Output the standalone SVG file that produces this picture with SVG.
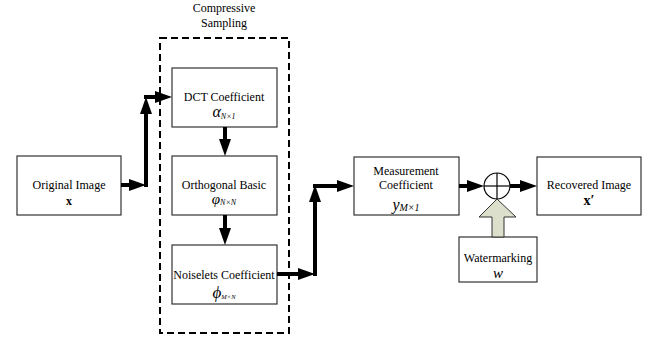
<svg xmlns="http://www.w3.org/2000/svg" width="653" height="341" viewBox="0 0 653 341" font-family="Liberation Serif, Tinos, Noto Serif, DejaVu Serif, Times New Roman, Times, serif">
  <style>
    .box { fill: #ffffff; stroke: #333333; stroke-width: 1.2; }
    .lbl { font-size: 12px; text-anchor: middle; }
    .math { font-style: italic; }
    .wire { stroke: #000; stroke-width: 4; }
    .tip { fill: #000; }
  </style>

  <!-- dashed frame of the sampling stage -->
  <g id="compressive-sampling">
    <rect x="160" y="38" width="129" height="295" fill="none" stroke="#000" stroke-width="2" stroke-dasharray="7,4"/>
    <text class="lbl" x="224" y="12">Compressive</text>
    <text class="lbl" x="224" y="27">Sampling</text>
  </g>

  <g id="original-image">
    <rect class="box" x="17" y="156" width="104" height="59"/>
    <text class="lbl" x="69" y="189">Original Image</text>
    <text class="lbl" x="69" y="205" font-weight="bold">x</text>
  </g>

  <g id="dct-coefficient">
    <rect class="box" x="172" y="68" width="105" height="59"/>
    <text class="lbl" x="224" y="101">DCT Coefficient</text>
    <text x="224" y="117" text-anchor="middle"><tspan class="math" font-size="16">α</tspan><tspan class="math" font-size="8" dy="2">N×1</tspan></text>
  </g>

  <g id="orthogonal-basic">
    <rect class="box" x="172" y="156" width="105" height="59"/>
    <text class="lbl" x="224" y="189">Orthogonal Basic</text>
    <text x="224" y="204" text-anchor="middle"><tspan class="math" font-size="15">φ</tspan><tspan class="math" font-size="8" dy="1">N×N</tspan></text>
  </g>

  <g id="noiselets-coefficient">
    <rect class="box" x="172" y="245" width="105" height="59"/>
    <text class="lbl" x="224" y="279">Noiselets Coefficient</text>
    <text x="224" y="298" text-anchor="middle"><tspan class="math" font-size="17">ϕ</tspan><tspan class="math" font-size="6.5" dy="1">M×N</tspan></text>
  </g>

  <g id="measurement-coefficient">
    <rect class="box" x="354" y="157" width="105" height="58"/>
    <text class="lbl" x="406" y="175">Measurement</text>
    <text class="lbl" x="406" y="189">Coefficient</text>
    <text x="406" y="210" text-anchor="middle"><tspan class="math" font-size="16">y</tspan><tspan class="math" font-size="10" dy="1">M×1</tspan></text>
  </g>

  <g id="adder">
    <circle cx="497" cy="186" r="13" fill="#fff" stroke="#000" stroke-width="1.2"/>
    <line x1="484" y1="186" x2="510" y2="186" stroke="#000" stroke-width="1.2"/>
    <line x1="497" y1="173" x2="497" y2="199" stroke="#000" stroke-width="1.2"/>
  </g>

  <g id="recovered-image">
    <rect class="box" x="537" y="157" width="104" height="58"/>
    <text class="lbl" x="589" y="189">Recovered Image</text>
    <text x="589" y="205" text-anchor="middle" font-size="14" font-weight="bold">x′</text>
  </g>

  <g id="watermarking">
    <rect class="box" x="459" y="237" width="78" height="45"/>
    <text class="lbl" x="498" y="262">Watermarking</text>
    <text x="498" y="278" text-anchor="middle" class="math" font-size="15">w</text>
  </g>

  <g id="connectors">
    <!-- original image up into the sampling stage -->
    <line class="wire" x1="121" y1="185" x2="132" y2="185"/>
    <polygon class="tip" points="129,179 146,185 129,191"/>
    <line class="wire" x1="146" y1="187" x2="146" y2="112"/>
    <polygon class="tip" points="140,114 146,97 152,114"/>
    <line class="wire" x1="144" y1="97" x2="158" y2="97"/>
    <polygon class="tip" points="155,91 172,97 155,103"/>

    <!-- inside the sampling stage -->
    <line class="wire" x1="225" y1="127" x2="225" y2="140"/>
    <polygon class="tip" points="219,139 225,156 231,139"/>
    <line class="wire" x1="225" y1="215" x2="225" y2="229"/>
    <polygon class="tip" points="219,228 225,245 231,228"/>

    <!-- sampling stage to measurement -->
    <line class="wire" x1="277" y1="274" x2="300" y2="274"/>
    <polygon class="tip" points="298,268 315,274 298,280"/>
    <line class="wire" x1="315" y1="276" x2="315" y2="200"/>
    <polygon class="tip" points="309,202 315,185 321,202"/>
    <line class="wire" x1="313" y1="186" x2="340" y2="186"/>
    <polygon class="tip" points="337,180 354,186 337,192"/>

    <!-- measurement to adder to recovered image -->
    <line class="wire" x1="459" y1="186" x2="470" y2="186"/>
    <polygon class="tip" points="467,180 484,186 467,192"/>
    <line class="wire" x1="510" y1="186" x2="522" y2="186"/>
    <polygon class="tip" points="520,180 537,186 520,192"/>

    <!-- watermark block arrow -->
    <polygon points="492,237 492,217 479,217 497,199 516,217 504,217 504,237" fill="#dcdfcc" stroke="#333" stroke-width="1"/>
  </g>
</svg>
